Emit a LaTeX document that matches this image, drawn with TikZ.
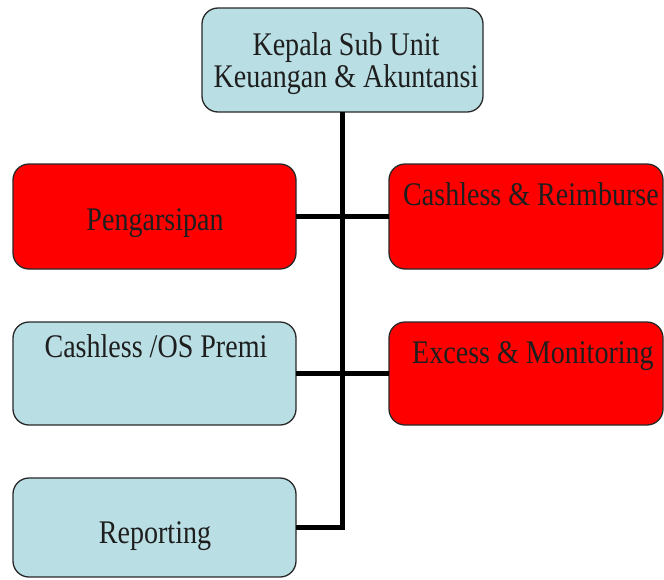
\documentclass[tikz,border=0pt]{standalone}
\usepackage{fontspec}
\setmainfont[FakeStretch=0.85]{Liberation Serif}
\definecolor{boxblue}{RGB}{185,223,228}
\definecolor{boxred}{RGB}{255,0,0}
\definecolor{edgegray}{RGB}{40,40,40}
\definecolor{txt}{RGB}{30,30,30}
\begin{document}
\begin{tikzpicture}[x=1pt,y=-1pt,
  unitbox/.style={draw=edgegray,line width=1.3pt,rounded corners=16pt,
    minimum width=#1,inner sep=0pt,outer sep=0pt},
  bluebox/.style={unitbox=283pt,fill=boxblue},
  redbox/.style={unitbox=274pt,fill=boxred},
  lbl/.style={anchor=base,inner sep=0pt,text=txt,font=\fontsize{33}{32}\selectfont,align=center},
  wire/.style={line width=5pt,draw=black,line join=miter}]
\useasboundingbox (0,0) rectangle (664,579);
% boxes
\node[bluebox,minimum width=281pt,minimum height=104pt] (top) at (342.5,60) {};
\node[redbox,minimum width=283pt,minimum height=105pt] (peng) at (154.5,216.5) {};
\node[redbox,minimum height=105pt] (reimb) at (526,216.5) {};
\node[bluebox,minimum height=103pt] (prem) at (154.5,373.5) {};
\node[redbox,minimum height=103pt] (exc) at (526,373.5) {};
\node[bluebox,minimum height=99pt] (rep) at (154.5,527.5) {};
% connectors
\begin{scope}[on background layer/.style={}]
\draw[wire] (top.south) -- (top.south |- rep.east) -- (rep.east);
\draw[wire] (peng.east) -- (reimb.west);
\draw[wire] (prem.east) -- (exc.west);
\end{scope}
% labels
\node[lbl] (t1) at (346,55) {Kepala Sub Unit};
\node[lbl] (t2) at (346,87) {Keuangan \& Akuntansi};
\node[lbl] (t3) at (155,230) {Pengarsipan};
\node[lbl] (t4) at (531,205) {Cashless \& Reimburse};
\node[lbl] (t5) at (156,357) {Cashless /OS Premi};
\node[lbl] (t6) at (533,363) {Excess \& Monitoring};
\node[lbl] (t7) at (155,543) {Reporting};
\end{tikzpicture}
\end{document}
